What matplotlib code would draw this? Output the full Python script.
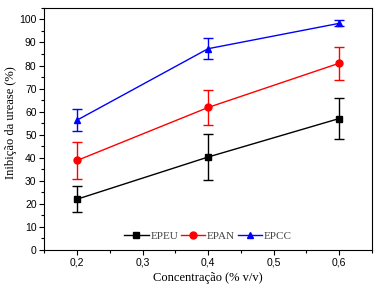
import numpy as np
import matplotlib.pyplot as plt
from matplotlib.ticker import MultipleLocator, FuncFormatter
from matplotlib.lines import Line2D

conc = [0.2, 0.4, 0.6]

epeu = [22.0, 40.3, 57.0]
epeu_err = [5.6, 9.9, 9.0]
epan = [38.8, 61.8, 81.0]
epan_err = [7.9, 7.8, 7.1]
epcc = [56.3, 87.3, 98.3]
epcc_err = [4.7, 4.5, 1.3]

fig = plt.figure(figsize=(3.78, 2.93), dpi=100)
ax = fig.add_axes([0.117, 0.147, 0.867, 0.826])

series = [(epeu, epeu_err, 'black', 's', 'EPEU'),
          (epan, epan_err, 'red', 'o', 'EPAN'),
          (epcc, epcc_err, 'blue', '^', 'EPCC')]
handles = []
for y, e, c, m, lab in series:
    ax.errorbar(conc, y, yerr=e, color=c, marker=m, ms=5,
                lw=1, capsize=3.5, elinewidth=1)
    handles.append(Line2D([], [], color=c, marker=m, ms=5, lw=1, label=lab))

ax.set_xlim(0.15, 0.65)
ax.set_ylim(0, 105)
ax.xaxis.set_major_locator(MultipleLocator(0.1))
ax.xaxis.set_minor_locator(MultipleLocator(0.05))
ax.yaxis.set_major_locator(MultipleLocator(10))
ax.yaxis.set_minor_locator(MultipleLocator(5))
ax.xaxis.set_major_formatter(FuncFormatter(lambda v, p: ('%.1f' % v).replace('.', ',')))
ax.tick_params(which='both', direction='out', top=False, right=False,
               labelsize=7.5, width=0.8, pad=2)
ax.tick_params(which='major', length=3.5)
ax.tick_params(which='minor', length=2)
for t in ax.get_xticklabels() + ax.get_yticklabels():
    t.set_family('Liberation Sans')

ax.set_xlabel('Concentração (% v/v)', family='Liberation Serif', fontsize=9)
ax.set_ylabel('Inibição da urease (%)', family='Liberation Serif', fontsize=9)
ax.yaxis.set_label_coords(-0.082, 0.525)
ax.xaxis.set_label_coords(0.5, -0.09)

leg = ax.legend(handles=handles, loc='lower center', ncol=3, frameon=False,
                handlelength=2.2, handletextpad=0.15, columnspacing=0.25,
                borderaxespad=0.4,
                prop={'family': 'Liberation Serif', 'size': 8})
for t in leg.get_texts():
    t.set_color('#444444')

fig.savefig('out.png', dpi=100)
